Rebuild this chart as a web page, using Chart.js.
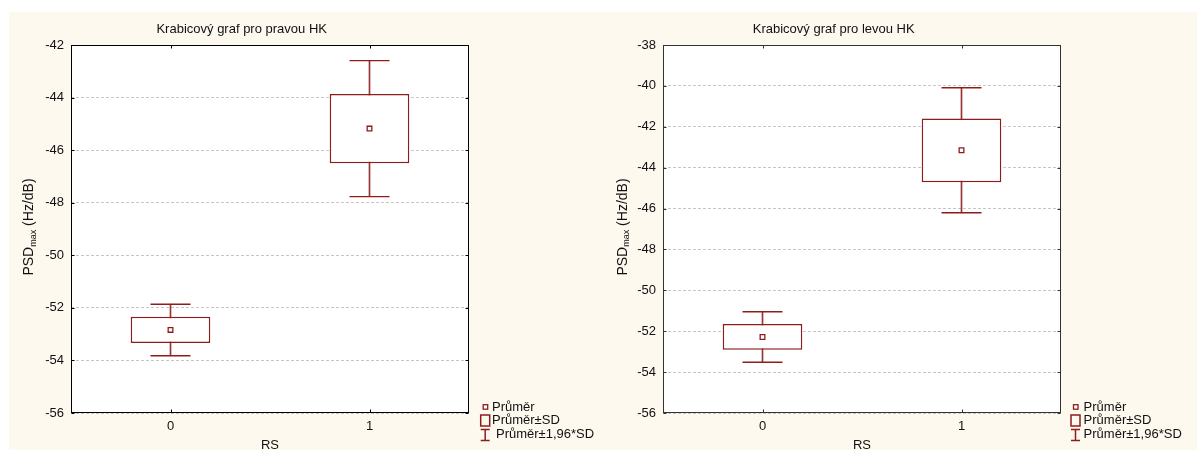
<!DOCTYPE html>
<html>
<head>
<meta charset="utf-8">
<script src="https://cdn.jsdelivr.net/npm/chart.js@4/dist/chart.umd.min.js"></script>
<style>
  html, body { margin: 0; padding: 0; background: #ffffff; }
  #stage { position: relative; width: 1197px; height: 450px; overflow: hidden; }
  #panel { position: absolute; left: 9px; top: 12px; right: 0; bottom: 0; background: #fdf9ef; }
  canvas { position: absolute; top: 0; }
  #chartRight { left: 0; }
  #chartLeft { left: 592px; }
</style>
</head>
<body>
<div id="stage">
  <div id="panel"></div>
  <canvas id="chartRight" width="600" height="450"></canvas>
  <canvas id="chartLeft" width="605" height="450"></canvas>
</div>
<script>
// RS groups on the horizontal axis
const categories = ['0', '1'];

// Right hand (pravá HK): group means and standard deviations of PSDmax
const rightMean = [-52.84, -45.18];
const rightSD   = [0.50, 1.32];
const rightAxis = [-56, -42];

// Left hand (levá HK)
const leftMean = [-52.28, -43.15];
const leftSD   = [0.63, 1.56];
const leftAxis = [-56, -38];

const tickStep = 2;
const whiskerFactor = 1.96;   // Průměr ± 1,96*SD

const legendLabels = ['Průměr', 'Průměr±SD', 'Průměr±1,96*SD'];

const FONT = "'Liberation Sans', Arial, sans-serif";
const RED = '#8e1c1c';
const TEXT = '#111111';

// White plot background under the grid
const plotBackground = {
  id: 'plotBackground',
  beforeDraw(chart) {
    const { ctx, chartArea: a } = chart;
    ctx.save();
    ctx.fillStyle = '#ffffff';
    ctx.fillRect(a.left, a.top, a.right - a.left, a.bottom - a.top);
    ctx.restore();
  }
};

// Closed frame with short inward ticks on every side
const plotFrame = {
  id: 'plotFrame',
  afterDatasetsDraw(chart, args, opts) {
    const { ctx, chartArea: a, scales } = chart;
    const L = Math.round(a.left) + 0.5, R = Math.round(a.right) - 0.5;
    const T = Math.round(a.top) + 0.5, B = Math.round(a.bottom) - 0.5;
    ctx.save();
    ctx.strokeStyle = opts.color;
    ctx.lineWidth = 1;
    ctx.setLineDash([]);
    ctx.strokeRect(L, T, R - L, B - T);
    ctx.beginPath();
    scales.x.ticks.forEach((t, i) => {
      const px = Math.round(scales.x.getPixelForTick(i)) + 0.5;
      ctx.moveTo(px, T); ctx.lineTo(px, T + 3);
      ctx.moveTo(px, B); ctx.lineTo(px, B - 3);
    });
    scales.y.ticks.forEach((t, i) => {
      const py = Math.round(scales.y.getPixelForTick(i)) + 0.5;
      ctx.moveTo(R, py); ctx.lineTo(R - 3, py);
      ctx.moveTo(L, py); ctx.lineTo(L + 3, py);
    });
    ctx.stroke();
    ctx.restore();
  }
};

// Chart title, y-axis title with subscript and the symbol legend
const annotations = {
  id: 'annotations',
  afterDraw(chart, args, opts) {
    const { ctx, chartArea: a } = chart;
    ctx.save();
    ctx.fillStyle = TEXT;
    ctx.textAlign = 'center';
    ctx.textBaseline = 'middle';
    ctx.font = '13px ' + FONT;
    ctx.fillText(opts.title, 241.7, 29.5);

    // PSD_max (Hz/dB), rotated
    const big = '14px ' + FONT, small = '9px ' + FONT;
    ctx.font = big;  const w1 = ctx.measureText('PSD').width;
    const w3 = ctx.measureText(' (Hz/dB)').width;
    ctx.font = small; const w2 = ctx.measureText('max').width;
    const total = w1 + w2 + w3;
    ctx.translate(opts.yTitleX, (a.top + a.bottom) / 2 - 2);
    ctx.rotate(-Math.PI / 2);
    ctx.textAlign = 'left';
    ctx.textBaseline = 'alphabetic';
    let x = -total / 2;
    ctx.font = big;   ctx.fillText('PSD', x, 0); x += w1;
    ctx.font = small; ctx.fillText('max', x, 2.5); x += w2;
    ctx.font = big;   ctx.fillText(' (Hz/dB)', x, 0);
    ctx.setTransform(1, 0, 0, 1, 0, 0);

    // Legend
    const lx = opts.legendX;
    ctx.strokeStyle = RED;
    ctx.lineWidth = 1.3;
    ctx.fillStyle = '#ffffff';
    ctx.fillRect(lx - 2, 404.7, 4.5, 4.5);
    ctx.strokeRect(lx - 2, 404.7, 4.5, 4.5);
    ctx.lineWidth = 1.5;
    ctx.strokeRect(lx - 4.5, 415, 9, 11);
    ctx.beginPath();
    ctx.moveTo(lx, 429.5); ctx.lineTo(lx, 440.5);
    ctx.moveTo(lx - 4.5, 429.5); ctx.lineTo(lx + 4.5, 429.5);
    ctx.moveTo(lx - 4.5, 440.5); ctx.lineTo(lx + 4.5, 440.5);
    ctx.stroke();
    ctx.fillStyle = TEXT;
    ctx.font = '13px ' + FONT;
    ctx.textAlign = 'left';
    ctx.textBaseline = 'middle';
    ctx.fillText(legendLabels[0], opts.legendTextX, 407);
    ctx.fillText(legendLabels[1], opts.legendTextX, 420.5);
    ctx.fillText(legendLabels[2], opts.legendTextX + opts.lastShift, 434.5);
    ctx.restore();
  }
};

function makeChart(canvas, title, means, sds, axisRange, opts) {
  const boxes = means.map((m, i) => [m - sds[i], m + sds[i]]);
  const lows  = means.map((m, i) => m - whiskerFactor * sds[i]);
  const highs = means.map((m, i) => m + whiskerFactor * sds[i]);
  const stems = means.map((m, i) => [lows[i], highs[i]]);

  return new Chart(canvas, {
    type: 'bar',
    data: {
      labels: categories,
      datasets: [
        { type: 'line', label: legendLabels[0], data: means, showLine: false,
          pointStyle: 'rect', pointRadius: 3.3, pointBorderWidth: 1.3,
          pointBorderColor: RED, pointBackgroundColor: '#ffffff', order: 0 },
        { type: 'bar', label: legendLabels[1], data: boxes, grouped: false,
          backgroundColor: '#ffffff', borderColor: RED, borderWidth: 1.5,
          borderSkipped: false, barPercentage: 0.4, categoryPercentage: 1, order: 1 },
        { type: 'line', label: 'low', data: lows, showLine: false,
          pointStyle: 'line', pointRadius: 20, pointBorderWidth: 1.4,
          pointBorderColor: RED, order: 2 },
        { type: 'line', label: 'high', data: highs, showLine: false,
          pointStyle: 'line', pointRadius: 20, pointBorderWidth: 1.4,
          pointBorderColor: RED, order: 2 },
        { type: 'bar', label: legendLabels[2], data: stems, grouped: false,
          backgroundColor: '#9a3333', borderWidth: 0, barThickness: 1, order: 3 }
      ]
    },
    options: {
      responsive: false,
      animation: false,
      events: [],
      layout: { padding: { top: 45, left: 0, bottom: 0, right: canvas.width - 469 } },
      plugins: {
        legend: { display: false },
        tooltip: { enabled: false },
        plotFrame: { color: opts.frameColor },
        annotations: { title, yTitleX: opts.yTitleX, legendX: opts.legendX,
                       legendTextX: opts.legendTextX, lastShift: opts.lastShift }
      },
      scales: {
        x: {
          type: 'category',
          offset: true,
          grid: { display: false, drawTicks: false },
          border: { display: false },
          ticks: { padding: 6, color: TEXT, font: { size: 13, family: FONT } },
          title: { display: true, text: 'RS', color: TEXT, padding: 0,
                   font: { size: 13, family: FONT, lineHeight: 0.77 } },
          afterFit: s => { s.height = 37; }
        },
        y: {
          type: 'linear',
          min: axisRange[0],
          max: axisRange[1],
          ticks: { stepSize: tickStep, padding: 7, color: TEXT,
                   font: { size: 13, family: FONT } },
          grid: { color: '#c6c6c6', lineWidth: 1, drawTicks: false },
          border: { display: false, dash: [3, 2] },
          afterFit: s => { s.width = 71; }
        }
      }
    },
    plugins: [plotBackground, plotFrame, annotations]
  });
}

makeChart(document.getElementById('chartRight'), 'Krabicový graf pro pravou HK',
  rightMean, rightSD, rightAxis,
  { frameColor: '#000000', yTitleX: 33.3, legendX: 485.2, legendTextX: 492, lastShift: 4 });

makeChart(document.getElementById('chartLeft'), 'Krabicový graf pro levou HK',
  leftMean, leftSD, leftAxis,
  { frameColor: '#333333', yTitleX: 34.5, legendX: 483.5, legendTextX: 491.6, lastShift: 0 });
</script>
</body>
</html>
